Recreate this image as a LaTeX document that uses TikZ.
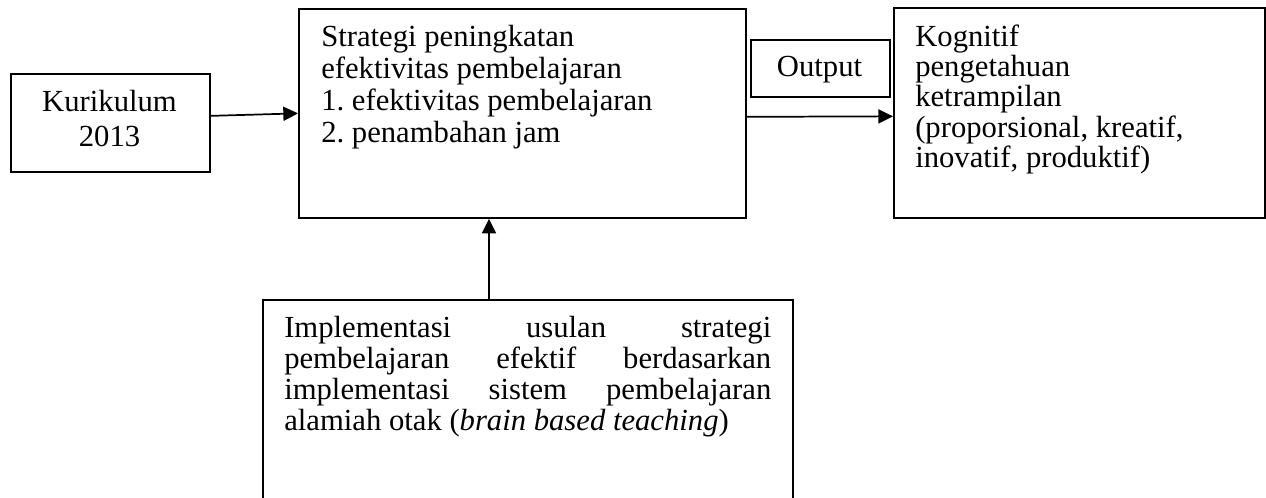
\documentclass[tikz,border=0pt]{standalone}
\usepackage{fontspec}
\setmainfont{Liberation Serif}
\usetikzlibrary{arrows.meta,calc}
\def\pxu{0.75pt}
\begin{document}
\frenchspacing
\begin{tikzpicture}[x=0.75pt,y=-0.75pt,
  box/.style={draw,line width=1.3pt,rectangle,inner sep=0pt,anchor=north west},
  txt/.style={inner sep=0pt,anchor=base west,font=\fontsize{23pt}{27pt}\selectfont},
  ctxt/.style={inner sep=0pt,anchor=base,font=\fontsize{23pt}{27pt}\selectfont},
  arr/.style={line width=1.3pt,-{Triangle[length=11pt,width=10.5pt]}}]
\fill[white] (0,0) rectangle (1266,498);
\useasboundingbox (0,0) rectangle (1266,498);
% boxes
\node[box,minimum width=199*\pxu,minimum height=98*\pxu] (kur) at (10,73) {};
\node[box,minimum width=447*\pxu,minimum height=209*\pxu] (str) at (298,8) {};
\node[box,minimum width=139*\pxu,minimum height=57*\pxu] (out) at (750,39) {};
\node[box,minimum width=371*\pxu,minimum height=210*\pxu] (kog) at (893,7) {};
\node[box,minimum width=530*\pxu,minimum height=215*\pxu] (bot) at (262,299) {};
% texts
\node[ctxt] (kur1) at (109.5,112) {Kurikulum};
\node[ctxt] (kur2) at (109.5,147) {2013};
\node[txt] (s1) at (321,47) {Strategi peningkatan};
\node[txt] (s2) at (321,79) {efektivitas pembelajaran};
\node[txt] (s3) at (321,111) {1. efektivitas pembelajaran};
\node[txt] (s4) at (321,143) {2. penambahan jam};
\node[ctxt] (o1) at (819.5,77) {Output};
\node[txt] (k1) at (915,47) {Kognitif};
\node[txt] (k2) at (915,77) {pengetahuan};
\node[txt] (k3) at (915,107) {ketrampilan};
\node[txt] (k4) at (915,138) {(proporsional, kreatif,};
\node[txt] (k5) at (915,168) {inovatif, produktif)};
\node[txt] (b1) at (284,338) {\makebox[365.25pt][s]{Implementasi usulan strategi}};
\node[txt] (b2) at (284,369) {\makebox[365.25pt][s]{pembelajaran efektif berdasarkan}};
\node[txt] (b3) at (284,400) {\makebox[365.25pt][s]{implementasi sistem pembelajaran}};
\node[txt] (b4) at (284,431) {alamiah otak (\textit{brain based teaching})};
% connectors
\coordinate (ax) at (489,0);
\draw[arr] ([yshift=5.25pt]kur.east) -- (str.west);
\draw[arr] ([yshift=-2.6pt]str.east) -- ([yshift=-2.6pt]kog.west);
\draw[arr] (bot.north -| ax) -- (str.south -| ax);
\end{tikzpicture}
\end{document}
